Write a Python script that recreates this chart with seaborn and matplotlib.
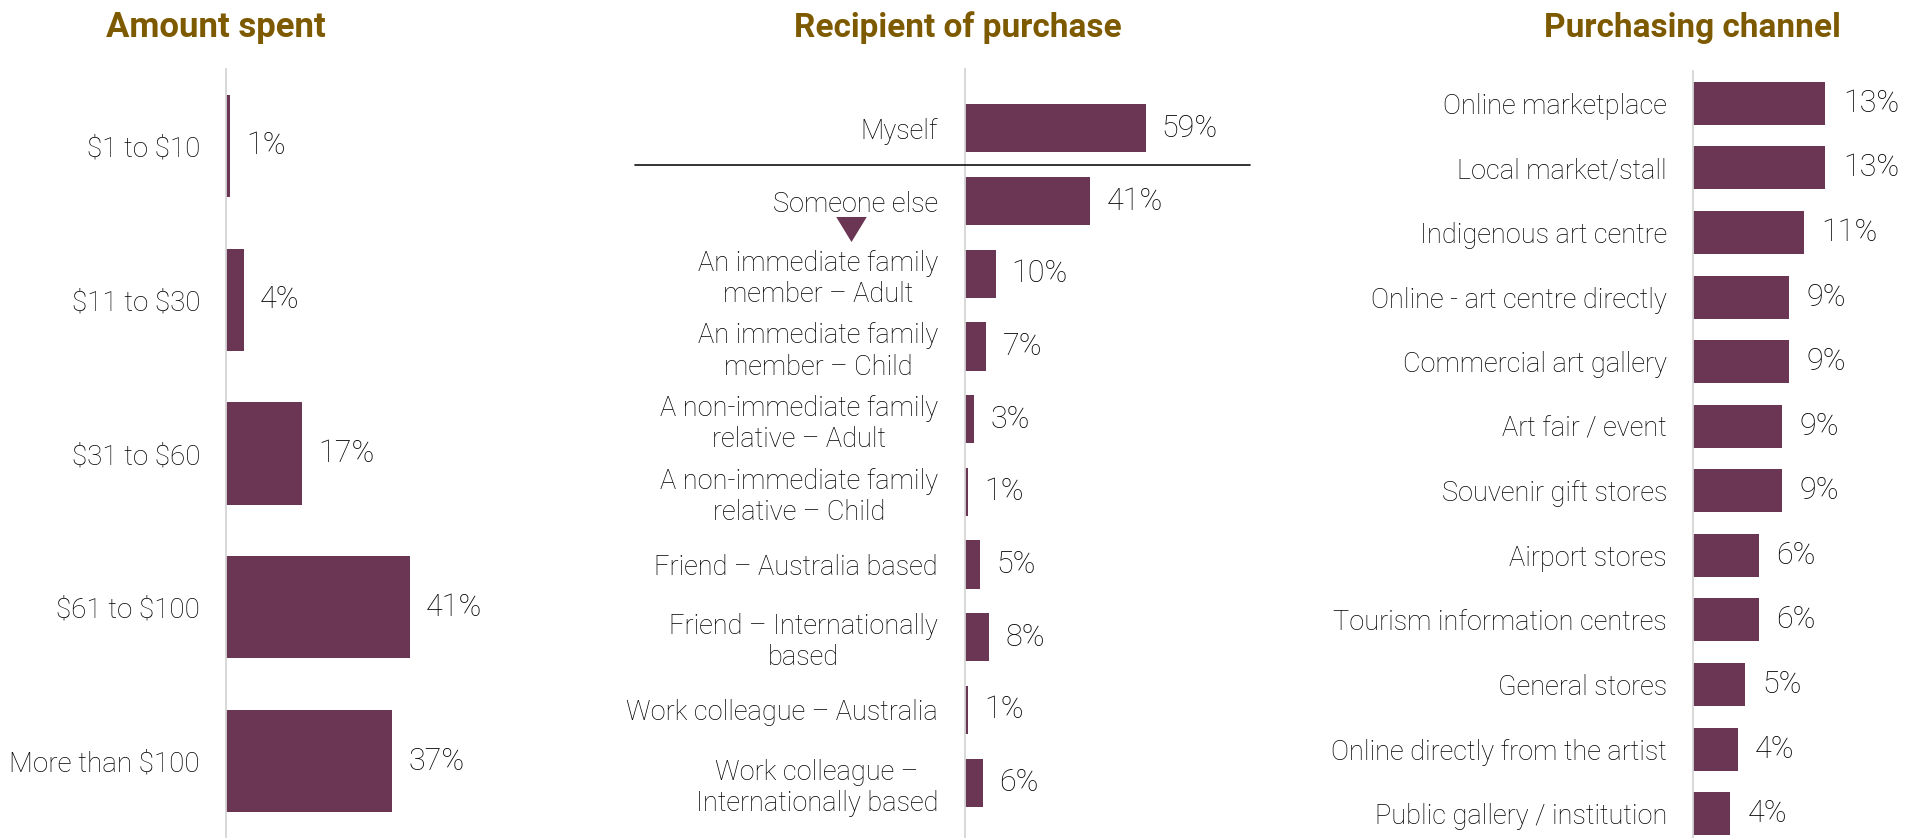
import matplotlib
matplotlib.use("Agg")
import matplotlib.pyplot as plt
import matplotlib.transforms as mtransforms
import seaborn as sns

# ---- data ---------------------------------------------------------------
amount_cats = ["$1 to $10", "$11 to $30", "$31 to $60", "$61 to $100", "More than $100"]
amount_pct = [1, 4, 17, 41, 37]

recipient_cats = [
    "Myself",
    "Someone else",
    "An immediate family\nmember – Adult",
    "An immediate family\nmember – Child",
    "A non-immediate family\nrelative – Adult",
    "A non-immediate family\nrelative – Child",
    "Friend – Australia based",
    "Friend – Internationally\nbased",
    "Work colleague – Australia",
    "Work colleague –\nInternationally based",
]
recipient_pct = [59, 41, 10, 7, 3, 1, 5, 8, 1, 6]

channel_cats = [
    "Online marketplace",
    "Local market/stall",
    "Indigenous art centre",
    "Online - art centre directly",
    "Commercial art gallery",
    "Art fair / event",
    "Souvenir gift stores",
    "Airport stores",
    "Tourism information centres",
    "General stores",
    "Online directly from the artist",
    "Public gallery / institution",
]
channel_pct = [12.8, 12.8, 10.7, 9.3, 9.3, 8.6, 8.6, 6.4, 6.4, 5.0, 4.3, 3.6]

panel_titles = ["Amount spent", "Recipient of purchase", "Purchasing channel"]

# ---- style --------------------------------------------------------------
BAR = "#6A3654"
TITLE = "#7D5A00"
INK = "#000000"
SPINE = "#D6D6D6"
FONT = ["Roboto", "DejaVu Sans"]

sns.set_theme(style="white")
plt.rcParams["font.family"] = FONT
plt.rcParams["text.color"] = INK

W, H = 1910, 838
fig = plt.figure(figsize=(W / 100, H / 100), dpi=100)


def add_px_axes(left, top, bottom, width):
    return fig.add_axes([left / W, 1 - bottom / H, width / W, (bottom - top) / H])


def bar_panel(ax, cats, vals, xmax, label_size, label_pad, value_size, value_pad):
    sns.barplot(x=vals, y=cats, order=cats, orient="h", color=BAR,
                saturation=1, width=0.665, ax=ax, edgecolor="none")
    ax.set_xlim(0, xmax)
    ax.set_xlabel("")
    ax.set_ylabel("")
    ax.set_xticks([])
    for side in ("top", "right", "bottom"):
        ax.spines[side].set_visible(False)
    ax.spines["left"].set_color(SPINE)
    ax.spines["left"].set_linewidth(1.3)
    ax.tick_params(axis="y", length=0, pad=label_pad)
    ax.set_yticks(range(len(cats)))
    ax.set_yticklabels([c.replace("$", r"\$") for c in cats],
                       family=FONT, weight="light",
                       fontsize=label_size, color=INK)
    for t in ax.get_yticklabels():
        t.set_multialignment("center")
    ax.bar_label(ax.containers[0], labels=[f"{v:.0f}%" for v in vals],
                 padding=value_pad, family=FONT, weight="light",
                 fontsize=value_size, color=INK)
    ax.patch.set_alpha(0)


# Amount spent  (4.49 px per percentage point)
ax1 = add_px_axes(226, 69, 838, 250)
bar_panel(ax1, amount_cats, amount_pct, 250 / 4.49, 20, 18.7, 22, 11.5)

# Recipient of purchase  (3.06 px per percentage point)
ax2 = add_px_axes(965, 69, 842, 240)
bar_panel(ax2, recipient_cats, recipient_pct, 240 / 3.06, 19.5, 19.4, 22, 11.5)

# divider between "Myself" and the "Someone else" breakdown
sep_tr = mtransforms.blended_transform_factory(fig.transFigure, ax2.transData)
ax2.plot([635 / W, 1250 / W], [0.5, 0.5], transform=sep_tr, color="#111111",
         lw=1.2, clip_on=False, zorder=5)
# arrow head pointing from "Someone else" down to its breakdown
wide_v = [(-1, 0.82), (1, 0.82), (0, -0.82), (-1, 0.82)]
ax2.plot([851 / W], [1.38], transform=sep_tr, marker=wide_v, markersize=22,
         color=BAR, markeredgewidth=0, clip_on=False, linestyle="none")

# Purchasing channel  (10.35 px per percentage point)
ax3 = add_px_axes(1693, 71, 846, 210)
bar_panel(ax3, channel_cats, channel_pct, 210 / 10.35, 19.5, 18.7, 22, 12.5)

# panel headings
for x_px, title, size in [(216, panel_titles[0], 25),
                          (958, panel_titles[1], 24),
                          (1692, panel_titles[2], 24)]:
    fig.text(x_px / W, 1 - 28 / H, title, ha="center", va="center",
             family=FONT, weight="bold", fontsize=size, color=TITLE)

fig.savefig("out.png", dpi=100)
